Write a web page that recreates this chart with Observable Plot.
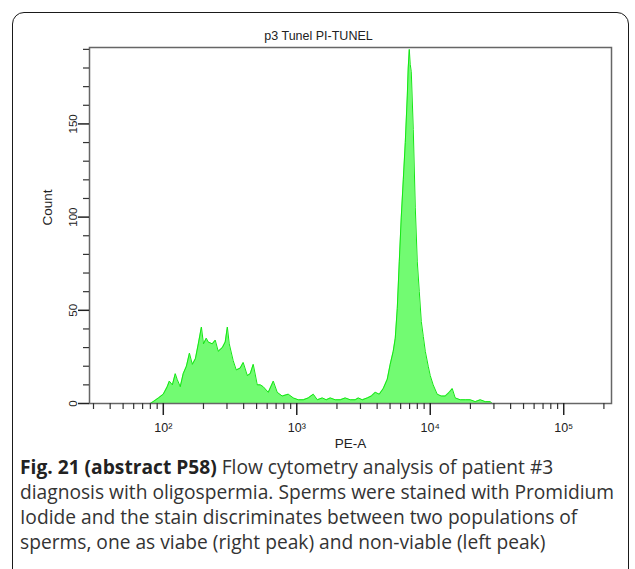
<!DOCTYPE html>
<html>
<head>
<meta charset="utf-8">
<script src="https://cdn.jsdelivr.net/npm/d3@7"></script>
<script src="https://cdn.jsdelivr.net/npm/@observablehq/plot@0.6"></script>
<style>
  html, body { margin: 0; padding: 0; background: #fff; width: 635px; height: 569px; overflow: hidden; }
  #card { position: absolute; left: 12px; top: 12px; width: 617px; height: 640px; border: 1.5px solid #1a1a1a; border-radius: 12px; box-sizing: border-box; }
  #chart { position: absolute; left: 0; top: 0; }
  #caption { position: absolute; left: 20px; top: 454px; width: 612px; font-family: "Open Sans", sans-serif; font-size: 19.2px; line-height: 25px; color: #333; white-space: nowrap; }
  #caption b { color: #222; }
</style>
</head>
<body>
<div id="card"></div>
<div id="chart"></div>
<div id="caption"><b>Fig. 21 (abstract P58)</b> Flow cytometry analysis of patient #3<br>diagnosis with oligospermia. Sperms were stained with Promidium<br>Iodide and the stain discriminates between two populations of<br>sperms, one as viabe (right peak) and non-viable (left peak)</div>
<script>
// PE-A channel values (log axis) and event counts
const peA = [80, 84, 92, 100, 107, 111, 117, 123, 127, 134, 141, 149, 157, 165, 174, 183, 193, 200, 210, 217,
  233, 245, 258, 277, 291, 302, 312, 334, 352, 377, 397, 426, 448, 472, 506, 533, 561, 612, 667, 714,
  778, 863, 942, 1026, 1119, 1219, 1330, 1425, 1553, 1663, 1782, 1942, 2118, 2307, 2517, 2742, 2889, 3097, 3374, 3614,
  3873, 4150, 4446, 4763, 5012, 5280, 5469, 5662, 5861, 6067, 6281, 6501, 6730, 6839, 6966, 7080, 7211, 7464, 7727, 7998,
  8279, 8570, 8872, 9184, 9661, 10000, 10520, 11270, 12080, 12940, 13870, 14620, 15380, 16790, 18290, 19950, 21730, 23710, 25830, 28130, 29120];
const counts = [0, 1, 3, 5, 9, 12, 10, 16, 13, 9, 16, 20, 27, 21, 24, 32, 41, 32, 35, 33,
  32, 34, 28, 30, 33, 41, 32, 23, 18, 19, 22, 15, 16, 21, 10, 10, 9, 6, 12, 6,
  4, 5, 3, 2, 2, 3, 5, 2, 3, 2, 3, 2, 2, 3, 2, 2, 3, 2, 3, 4,
  6, 5, 8, 13, 21, 28, 35, 51, 76, 100, 120, 140, 165, 180, 190, 182, 178, 147, 105, 76,
  60, 44, 36, 28, 20, 15, 10, 5, 4, 4, 6, 8, 3, 2, 2, 2, 1, 2, 1, 1, 0];

const decadeTicks = [100, 1000, 10000, 100000];
const decadeLabels = ["10²", "10³", "10⁴", "10⁵"];
const minorTicks = [30, 40, 50, 60, 70, 80, 90, 200, 300, 400, 500, 600, 700, 800, 900,
  2000, 3000, 4000, 5000, 6000, 7000, 8000, 9000, 20000, 30000, 40000, 50000, 60000, 70000, 80000, 90000, 200000];
const yMajor = [0, 50, 100, 150];
const yMinor = [10, 20, 30, 40, 60, 70, 80, 90, 110, 120, 130, 140, 160, 170, 180, 190];

const chartTitle = "p3 Tunel PI-TUNEL";
const xLabel = "PE-A";
const yLabel = "Count";

const data = peA.map((v, i) => ({x: v, y: counts[i]}));

const font = "'Liberation Sans', Arial, sans-serif";

const plot = Plot.plot({
  width: 635,
  height: 456,
  marginLeft: 89,
  marginRight: 24,
  marginTop: 47,
  marginBottom: 53,
  style: {fontFamily: font, fontSize: "11px", color: "#222", background: "transparent"},
  x: {type: "log", domain: [28, 228000]},
  y: {domain: [0, 191]},
  marks: [
    Plot.areaY(data, {x: "x", y: "y", fill: "#72fb72", curve: "linear"}),
    Plot.lineY(data, {x: "x", y: "y", stroke: "#14e614", strokeWidth: 1, curve: "linear"}),
    Plot.frame({stroke: "#666", strokeWidth: 1.5}),
    Plot.axisX(minorTicks, {tickSize: 6, tickFormat: () => "", stroke: "#333", strokeWidth: 1.2, label: null}),
    Plot.axisX(decadeTicks, {tickSize: 12, tickPadding: 8, stroke: "#222", strokeWidth: 1.5,
      tickFormat: (d) => decadeLabels[decadeTicks.indexOf(d)], fontSize: 12.5, label: null}),
    Plot.axisY(yMinor, {tickSize: 6, tickFormat: () => "", stroke: "#333", strokeWidth: 1.2, label: null}),
    Plot.axisY(yMajor, {tickSize: 11, tickFormat: () => "", stroke: "#222", strokeWidth: 1.5, label: null}),
    Plot.text(yMajor, {y: (d) => d, frameAnchor: "left", dx: -16, rotate: -90, text: (d) => String(d), fontSize: 11.5, textAnchor: "middle"}),
    Plot.text([yLabel], {frameAnchor: "left", dx: -42, rotate: -90, text: (d) => d, fontSize: 13.5}),
    Plot.text([xLabel], {frameAnchor: "bottom", dy: 44, text: (d) => d, fontSize: 13.5}),
    Plot.text([chartTitle], {frameAnchor: "top", dy: -16, dx: -32, text: (d) => d, fontSize: 12.5})
  ]
});
document.getElementById("chart").appendChild(plot);
</script>
</body>
</html>
